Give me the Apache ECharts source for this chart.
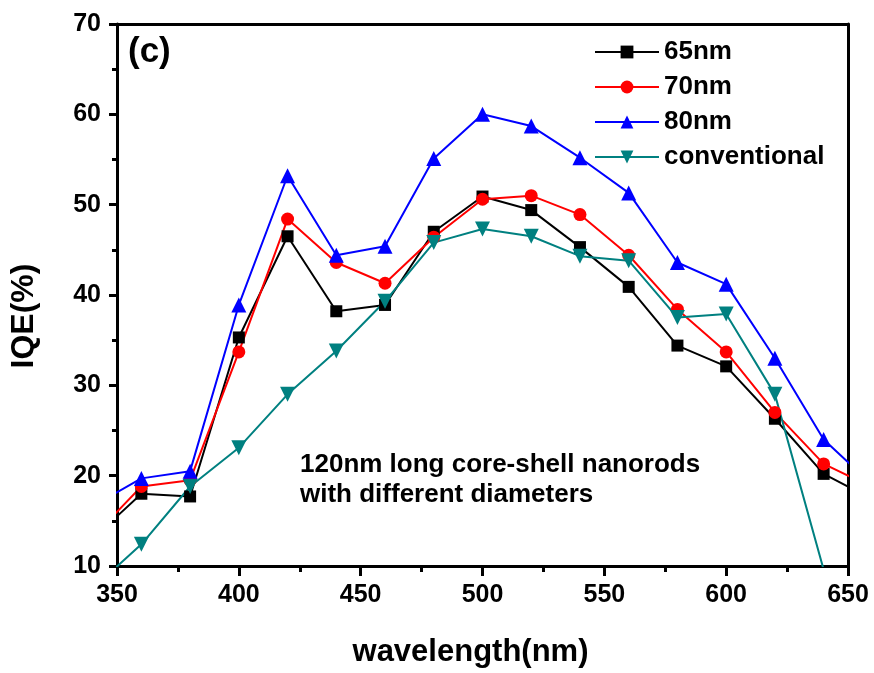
<!DOCTYPE html>
<html>
<head>
<meta charset="utf-8">
<script src="https://cdn.jsdelivr.net/npm/echarts@6/dist/echarts.min.js"></script>
<style>
  html, body { margin: 0; padding: 0; background: #fff; }
  #chart { width: 874px; height: 673px; }
</style>
</head>
<body>
<div id="chart"></div>
<script>
// wavelengths (nm); 340 and 660 are the edge values where the lines run out of the frame
const wavelengths = [340, 360, 380, 400, 420, 440, 460, 480, 500, 520, 540, 560, 580, 600, 620, 640, 660];
const iqe65 = [13.0, 18.0, 17.7, 35.3, 46.5, 38.2, 38.9, 47.0, 50.9, 49.4, 45.3, 40.9, 34.4, 32.1, 26.3, 20.2, 17.4];
const iqe70 = [13.2, 18.8, 19.5, 33.7, 48.4, 43.6, 41.3, 46.4, 50.6, 51.0, 48.9, 44.4, 38.4, 33.7, 27.0, 21.3, 18.7];
const iqe80 = [16.6, 19.7, 20.5, 38.9, 53.2, 44.4, 45.4, 55.1, 60.0, 58.7, 55.2, 51.3, 43.6, 41.2, 33.0, 24.0, 19.0];
const iqeConv = [7.5, 12.4, 18.8, 23.1, 29.0, 33.8, 39.3, 45.8, 47.3, 46.5, 44.3, 43.8, 37.5, 37.9, 29.0, 9.6, null];

const seriesNames = ['65nm', '70nm', '80nm', 'conventional'];
const xTicks = { min: 350, max: 650, step: 50 };
const yTicks = { min: 10, max: 70, step: 10 };

const FONT = '"Liberation Sans", Arial, sans-serif';

const chart = echarts.init(document.getElementById('chart'));

// 把数据组合成 [x, y] 点
const toPoints = (vals) => wavelengths.map((w, i) => [w, vals[i]]);

const lineSeries = (name, vals, color, symbol, size, rotate) => ({
  name,
  type: 'line',
  data: toPoints(vals),
  clip: true,
  symbol,
  symbolSize: size,
  symbolRotate: rotate || 0,
  showAllSymbol: true,
  connectNulls: false,
  lineStyle: { color, width: 2 },
  itemStyle: { color },
  z: 3,
});

const tickLabel = { fontFamily: FONT, fontSize: 25, fontWeight: 'bold', color: '#000' };

const option = {
  animation: false,
  backgroundColor: '#fff',
  grid: { left: 117, right: 26, top: 24, bottom: 106, containLabel: false },
  legend: {
    data: seriesNames,
    orient: 'vertical',
    left: 589,
    top: 34,
    itemWidth: 64,
    itemHeight: 16,
    itemGap: 9,
    textStyle: { fontFamily: FONT, fontSize: 26, lineHeight: 26, fontWeight: 'bold', color: '#000' },
  },
  xAxis: [
    {
      type: 'value',
      min: xTicks.min,
      max: xTicks.max,
      interval: xTicks.step,
      name: 'wavelength(nm)',
      nameLocation: 'middle',
      nameGap: 71,
      nameTextStyle: { fontFamily: FONT, fontSize: 31, fontWeight: 'bold', color: '#000', padding: [0, 24, 0, 0] },
      axisLine: { show: true, lineStyle: { color: '#000', width: 3 } },
      axisTick: { show: true, inside: false, length: 10, lineStyle: { color: '#000', width: 3 } },
      minorTick: { show: true, splitNumber: 2, length: 6, lineStyle: { color: '#000', width: 3 } },
      axisLabel: { ...tickLabel, margin: 17 },
      splitLine: { show: false },
    },
    {
      type: 'value',
      position: 'top',
      min: xTicks.min,
      max: xTicks.max,
      axisLine: { show: true, lineStyle: { color: '#000', width: 3 } },
      axisTick: { show: false },
      axisLabel: { show: false },
      splitLine: { show: false },
    },
  ],
  yAxis: [
    {
      type: 'value',
      min: yTicks.min,
      max: yTicks.max,
      interval: yTicks.step,
      name: 'IQE(%)',
      nameLocation: 'middle',
      nameGap: 77,
      nameRotate: 90,
      nameTextStyle: { fontFamily: FONT, fontSize: 32, fontWeight: 'bold', color: '#000', padding: [0, 42, 0, 0] },
      axisLine: { show: true, lineStyle: { color: '#000', width: 3 } },
      axisTick: { show: true, inside: false, length: 8, lineStyle: { color: '#000', width: 3 } },
      minorTick: { show: true, splitNumber: 2, length: 5, lineStyle: { color: '#000', width: 3 } },
      axisLabel: { ...tickLabel, margin: 16 },
      splitLine: { show: false },
    },
    {
      type: 'value',
      position: 'right',
      min: yTicks.min,
      max: yTicks.max,
      axisLine: { show: true, lineStyle: { color: '#000', width: 3 } },
      axisTick: { show: false },
      axisLabel: { show: false },
      splitLine: { show: false },
    },
  ],
  graphic: [
    {
      type: 'text',
      left: 128,
      top: 35,
      style: { text: '(c)', fontFamily: FONT, fontSize: 35, fontWeight: 'bold', fill: '#000' },
    },
    {
      type: 'text',
      left: 300,
      top: 450,
      style: {
        text: '120nm long core-shell nanorods\nwith different diameters',
        fontFamily: FONT,
        fontSize: 26,
        fontWeight: 'bold',
        lineHeight: 30,
        fill: '#000',
      },
    },
  ],
  series: [
    lineSeries(seriesNames[0], iqe65, '#000000', 'rect', 12),
    lineSeries(seriesNames[1], iqe70, '#ff0000', 'circle', 13),
    lineSeries(seriesNames[2], iqe80, '#0000ff', 'triangle', 15),
    lineSeries(seriesNames[3], iqeConv, '#008080', 'triangle', 15, 180),
  ],
};

chart.setOption(option);
</script>
</body>
</html>
